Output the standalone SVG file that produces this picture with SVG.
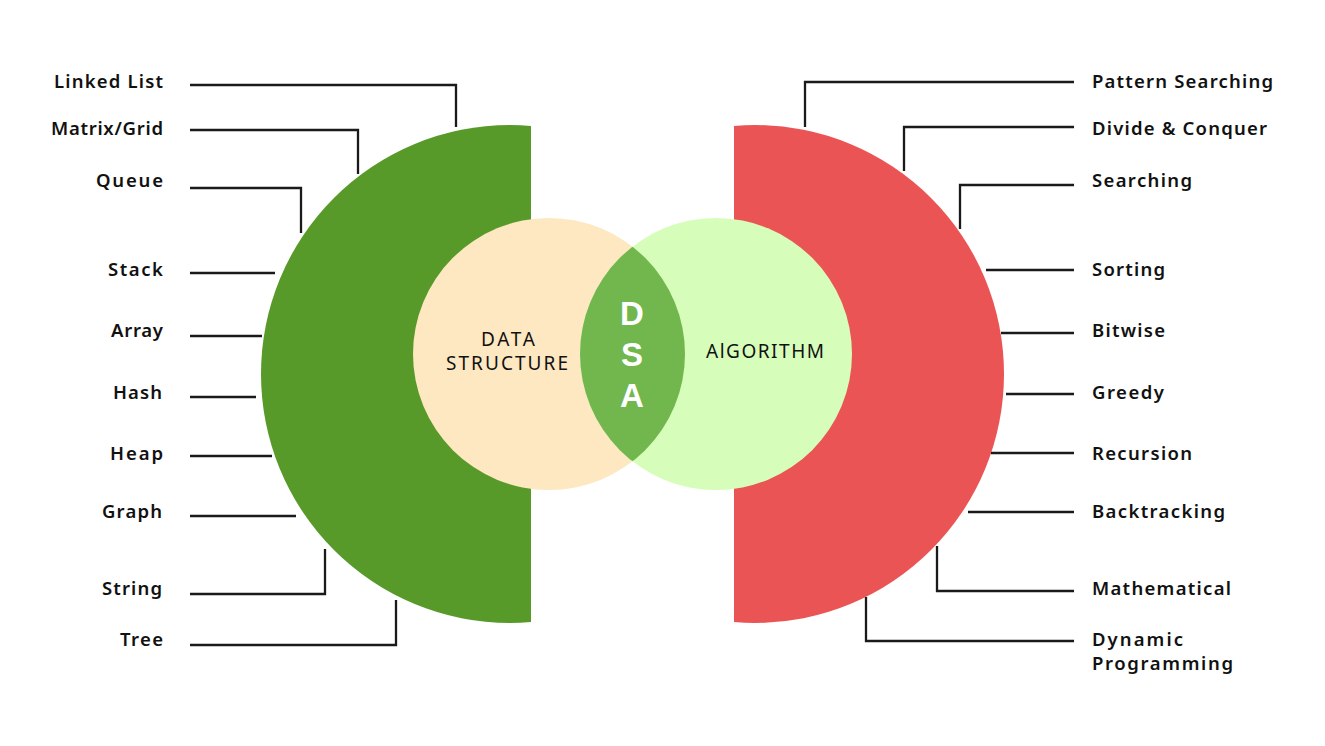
<svg xmlns="http://www.w3.org/2000/svg" width="1325" height="746" viewBox="0 0 1325 746">
<style>
.lbl{font-family:"Noto Sans","Liberation Sans",sans-serif;font-weight:600;font-size:18.5px;fill:#111}
.l{text-anchor:end}
.mid{font-family:"Noto Sans","Liberation Sans",sans-serif;font-size:19px;fill:#111;text-anchor:middle}
.dsa{font-family:"Liberation Sans",sans-serif;font-weight:700;font-size:33px;fill:#fff;text-anchor:middle}
.conn path{fill:none;stroke:#1a1a1a;stroke-width:2.3}
</style>
<defs>
<clipPath id="cl"><rect x="0" y="0" width="531" height="746"/></clipPath>
<clipPath id="cr"><rect x="734" y="0" width="591" height="746"/></clipPath>
<clipPath id="cds"><circle cx="549" cy="354" r="136"/></clipPath>
</defs>
<rect width="1325" height="746" fill="#fff"/>
<g id="data-half"><circle cx="510" cy="374" r="249" fill="#579A29" clip-path="url(#cl)"/></g>
<g id="algo-half"><circle cx="755" cy="374" r="249" fill="#EB5454" clip-path="url(#cr)"/></g>
<g id="data-structure"><circle cx="549" cy="354" r="136" fill="#FDE8C2"/>
<text class="mid" x="508" y="346" textLength="54">DATA</text><text class="mid" x="507" y="370" textLength="122">STRUCTURE</text></g>
<g id="algorithm"><circle cx="716" cy="354" r="136" fill="#D7FDBB"/>
<text class="mid" x="765" y="358" textLength="118">AlGORITHM</text></g>
<g id="dsa"><circle cx="716" cy="354" r="136" fill="#72B74D" clip-path="url(#cds)"/>
<text class="dsa" x="632" y="325">D</text><text class="dsa" x="632" y="366">S</text><text class="dsa" x="632" y="407">A</text></g>
<g class="conn" id="connectors">
<path d="M190 85H456V127"/>
<path d="M190 130H358V174"/>
<path d="M190 188H301V233"/>
<path d="M190 273H275"/>
<path d="M190 336H262"/>
<path d="M190 397H256"/>
<path d="M190 456H272"/>
<path d="M190 516H296"/>
<path d="M190 594H325V549"/>
<path d="M190 645H396V600"/>
<path d="M1074 82H805V127"/>
<path d="M1074 127H904V171"/>
<path d="M1074 185H960V229"/>
<path d="M1074 270H986"/>
<path d="M1074 333H1001"/>
<path d="M1074 394H1006"/>
<path d="M1074 453H991"/>
<path d="M1074 512H968"/>
<path d="M1074 591H937V546"/>
<path d="M1074 641H866V597"/>
</g>
<g id="n-linked-list"><text class="lbl l" x="163" y="88" textLength="109">Linked List</text></g>
<g id="n-matrix"><text class="lbl l" x="163" y="135" textLength="112">Matrix/Grid</text></g>
<g id="n-queue"><text class="lbl l" x="163" y="187" textLength="67">Queue</text></g>
<g id="n-stack"><text class="lbl l" x="163" y="276" textLength="55">Stack</text></g>
<g id="n-array"><text class="lbl l" x="163" y="337" textLength="52">Array</text></g>
<g id="n-hash"><text class="lbl l" x="162" y="399" textLength="49">Hash</text></g>
<g id="n-heap"><text class="lbl l" x="163" y="460" textLength="53">Heap</text></g>
<g id="n-graph"><text class="lbl l" x="162" y="518" textLength="60">Graph</text></g>
<g id="n-string"><text class="lbl l" x="162" y="595" textLength="60">String</text></g>
<g id="n-tree"><text class="lbl l" x="163" y="646" textLength="43">Tree</text></g>
<g id="n-pattern"><text class="lbl" x="1092" y="88" textLength="181">Pattern Searching</text></g>
<g id="n-divide"><text class="lbl" x="1092" y="135" textLength="175">Divide &amp; Conquer</text></g>
<g id="n-searching"><text class="lbl" x="1092" y="187" textLength="100">Searching</text></g>
<g id="n-sorting"><text class="lbl" x="1092" y="276" textLength="73">Sorting</text></g>
<g id="n-bitwise"><text class="lbl" x="1092" y="337" textLength="73">Bitwise</text></g>
<g id="n-greedy"><text class="lbl" x="1092" y="399" textLength="72">Greedy</text></g>
<g id="n-recursion"><text class="lbl" x="1092" y="460" textLength="100">Recursion</text></g>
<g id="n-backtracking"><text class="lbl" x="1092" y="518" textLength="133">Backtracking</text></g>
<g id="n-mathematical"><text class="lbl" x="1092" y="595" textLength="139">Mathematical</text></g>
<g id="n-dp"><text class="lbl" x="1092" y="646" textLength="91">Dynamic</text><text class="lbl" x="1092" y="670" textLength="141">Programming</text></g>
</svg>
